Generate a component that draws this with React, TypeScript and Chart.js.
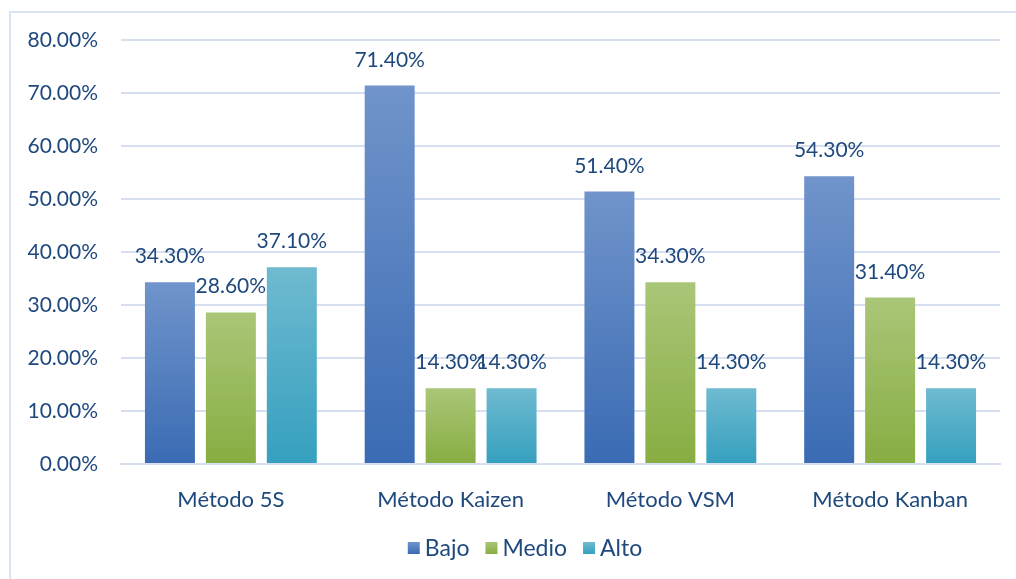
import React, { useEffect, useRef } from "react";
import { Chart, registerables } from "chart.js";

Chart.register(...registerables);

const categories = ["Método 5S", "Método Kaizen", "Método VSM", "Método Kanban"];
const seriesNames = ["Bajo", "Medio", "Alto"];
const bajo = [34.3, 71.4, 51.4, 54.3];
const medio = [28.6, 14.3, 34.3, 31.4];
const alto = [37.1, 14.3, 14.3, 14.3];
const yTicks = [0, 10, 20, 30, 40, 50, 60, 70, 80];

const TEXT = "#1F497D";
const GRID = "#d6e0f1";
const FONT = "Lato";

const palettes = [
  { top: "#7094cb", bottom: "#3a6bb3", solid: "#4a78c0" },
  { top: "#aac678", bottom: "#88ad42", solid: "#9bbb59" },
  { top: "#6fbad0", bottom: "#35a0bf", solid: "#4bacc6" },
];

function gradientFor(idx: number) {
  return (ctx: any) => {
    const chart = ctx.chart;
    const p = palettes[idx];
    if (!chart.chartArea || ctx.type !== "data") return p.solid;
    const y = chart.scales.y;
    const top = y.getPixelForValue(ctx.raw as number);
    const bottom = y.getPixelForValue(0);
    if (!isFinite(top) || !isFinite(bottom) || top === bottom) return p.solid;
    const g = chart.ctx.createLinearGradient(0, top, 0, bottom);
    g.addColorStop(0, p.top);
    g.addColorStop(1, p.bottom);
    return g;
  };
}

const valueLabels = {
  id: "valueLabels",
  afterDatasetsDraw(chart: any) {
    const c = chart.ctx;
    c.save();
    c.font = `21px ${FONT}`;
    c.fillStyle = TEXT;
    c.textAlign = "center";
    c.textBaseline = "alphabetic";
    chart.data.datasets.forEach((ds: any, i: number) => {
      const meta = chart.getDatasetMeta(i);
      meta.data.forEach((el: any, j: number) => {
        const v = ds.data[j] as number;
        c.fillText(`${v.toFixed(2)}%`, el.x, el.y - 19);
      });
    });
    c.restore();
  },
};

const customLegend = {
  id: "customLegend",
  afterDraw(chart: any) {
    const c = chart.ctx;
    c.save();
    c.font = `23px ${FONT}`;
    const box = 12, gapText = 5, gapItem = 16;
    const widths = seriesNames.map((n) => box + gapText + c.measureText(n).width);
    const total = widths.reduce((a, b) => a + b, 0) + gapItem * (seriesNames.length - 1);
    const cx = 525;
    const cy = 548;
    let x = cx - total / 2;
    c.textBaseline = "middle";
    c.textAlign = "left";
    seriesNames.forEach((n, i) => {
      const p = palettes[i];
      const g = c.createLinearGradient(0, cy - box / 2, 0, cy + box / 2);
      g.addColorStop(0, p.top);
      g.addColorStop(1, p.bottom);
      c.fillStyle = g;
      c.fillRect(x, cy - box / 2, box, box);
      c.fillStyle = TEXT;
      c.fillText(n, x + box + gapText, cy + 1);
      x += widths[i] + gapItem;
    });
    c.restore();
  },
};

export default function App() {
  const ref = useRef<HTMLCanvasElement | null>(null);
  useEffect(() => {
    document.body.style.margin = "0";
    if (!ref.current) return;
    const data = [bajo, medio, alto];
    const chart = new Chart(ref.current, {
      type: "bar",
      data: {
        labels: categories,
        datasets: seriesNames.map((name, i) => ({
          label: name,
          data: data[i],
          backgroundColor: gradientFor(i),
          barPercentage: 0.82,
          categoryPercentage: 0.832,
        })),
      },
      options: {
        animation: false,
        responsive: false,
        maintainAspectRatio: false,
        layout: { padding: { top: 40, right: 16, bottom: 54, left: 0 } },
        plugins: {
          tooltip: { enabled: false },
          legend: { display: false },
        },
        scales: {
          x: {
            grid: { display: false },
            border: { display: true, color: GRID, width: 2 },
            ticks: {
              font: { family: FONT, size: 22 },
              color: TEXT,
              padding: 15,
            },
            afterFit: (s: any) => {
              s.height = 61;
            },
          },
          y: {
            min: 0,
            max: 80,
            afterBuildTicks: (s: any) => {
              s.ticks = yTicks.map((v) => ({ value: v }));
            },
            grid: { color: GRID, lineWidth: 2, drawTicks: false },
            border: { display: false },
            ticks: {
              font: { family: FONT, size: 21 },
              color: TEXT,
              padding: 23,
              callback: (v: any) => `${Number(v).toFixed(2)}%`,
            },
            afterFit: (s: any) => {
              s.width = 121;
            },
          },
        },
      },
      plugins: [valueLabels, customLegend],
    });
    return () => chart.destroy();
  }, []);
  return (
    <div style={{ position: "relative", width: 1016, height: 579, background: "#fff", overflow: "hidden" }}>
      <div
        style={{
          position: "absolute",
          left: 9,
          top: 11,
          width: 1100,
          height: 700,
          borderLeft: "2px solid #d9e3f2",
          borderTop: "2px solid #d9e3f2",
        }}
      />
      <canvas ref={ref} width={1016} height={579} style={{ position: "absolute", left: 0, top: 0, width: 1016, height: 579 }} />
    </div>
  );
}
